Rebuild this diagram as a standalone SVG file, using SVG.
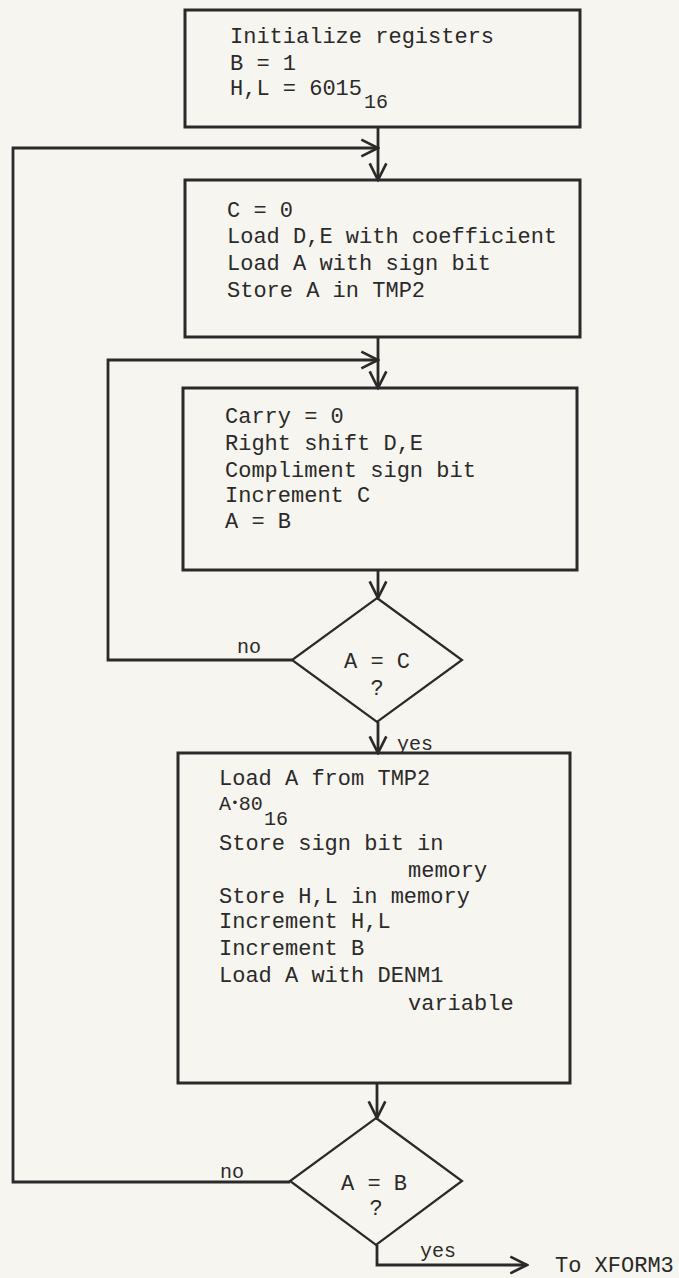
<svg xmlns="http://www.w3.org/2000/svg" width="679" height="1278" viewBox="0 0 679 1278">
<style>
.box{fill:none;stroke:#2a2a2a;stroke-width:3}
.dia{fill:none;stroke:#2a2a2a;stroke-width:2.2}
.ln{fill:none;stroke:#2a2a2a;stroke-width:2.8}
.t{font-family:"Liberation Mono","DejaVu Sans Mono",monospace;font-size:22px;fill:#2a2a2a}
.s{font-family:"Liberation Mono","DejaVu Sans Mono",monospace;font-size:20px;fill:#2a2a2a}
</style>
<defs>
<marker id="ah" markerUnits="userSpaceOnUse" markerWidth="20" markerHeight="20" viewBox="-1 -9 18 18" refX="15" refY="0" orient="auto">
<path d="M0,-7.5 L15,0 L0,7.5" fill="none" stroke="#2a2a2a" stroke-width="2.4"/>
</marker>
</defs>
<rect width="679" height="1278" fill="#f7f5ef"/>
<g id="connectors">
<path class="ln" d="M378,127 V180" marker-end="url(#ah)"/>
<path class="ln" d="M290,1182 H13 V148 H378" marker-end="url(#ah)"/>
<path class="ln" d="M378,337 V388" marker-end="url(#ah)"/>
<path class="ln" d="M292,660 H108 V360 H378" marker-end="url(#ah)"/>
<path class="ln" d="M378,570 V598" marker-end="url(#ah)"/>
<path class="ln" d="M378,722 V753" marker-end="url(#ah)"/>
<path class="ln" d="M377,1083 V1118" marker-end="url(#ah)"/>
<path class="ln" d="M377,1245 V1265 H527" marker-end="url(#ah)"/>
<text class="s" x="237" y="653">no</text>
<text class="s" x="397" y="750">yes</text>
<text class="s" x="220" y="1178">no</text>
<text class="s" x="420" y="1257">yes</text>
<text class="t" x="555" y="1272">To XFORM3</text>
</g>
<g id="init">
<rect class="box" x="185" y="10" width="395" height="117"/>
<text class="t" x="230" y="43">Initialize registers</text>
<text class="t" x="230" y="70">B = 1</text>
<text class="t" x="230" y="95">H,L = 6015</text>
<text class="s" x="364" y="108">16</text>
</g>
<g id="setup">
<rect class="box" x="185" y="180" width="395" height="157"/>
<text class="t" x="227" y="217">C = 0</text>
<text class="t" x="227" y="243">Load D,E with coefficient</text>
<text class="t" x="227" y="270">Load A with sign bit</text>
<text class="t" x="227" y="297">Store A in TMP2</text>
</g>
<g id="shift">
<rect class="box" x="183" y="388" width="394" height="182"/>
<text class="t" x="225" y="423">Carry = 0</text>
<text class="t" x="225" y="450">Right shift D,E</text>
<text class="t" x="225" y="477">Compliment sign bit</text>
<text class="t" x="225" y="502">Increment C</text>
<text class="t" x="225" y="528">A = B</text>
</g>
<g id="decision1">
<polygon class="dia" points="377,598 462,660 377,722 292,660"/>
<text class="t" x="377" y="668" text-anchor="middle">A = C</text>
<text class="t" x="377" y="695" text-anchor="middle">?</text>
</g>
<g id="store">
<rect class="box" x="178" y="753" width="392" height="330"/>
<text class="t" x="219" y="785">Load A from TMP2</text>
<text class="s" x="219" y="810">A<tspan font-size="13" dy="-3">•</tspan><tspan dy="3">80</tspan></text>
<text class="s" x="264" y="825">16</text>
<text class="t" x="219" y="850">Store sign bit in</text>
<text class="t" x="408" y="877">memory</text>
<text class="t" x="219" y="903">Store H,L in memory</text>
<text class="t" x="219" y="928">Increment H,L</text>
<text class="t" x="219" y="955">Increment B</text>
<text class="t" x="219" y="982">Load A with DENM1</text>
<text class="t" x="408" y="1010">variable</text>
</g>
<g id="decision2">
<polygon class="dia" points="376,1118 462,1181 376,1245 290,1181"/>
<text class="t" x="374" y="1190" text-anchor="middle">A = B</text>
<text class="t" x="376" y="1215" text-anchor="middle">?</text>
</g>
</svg>
